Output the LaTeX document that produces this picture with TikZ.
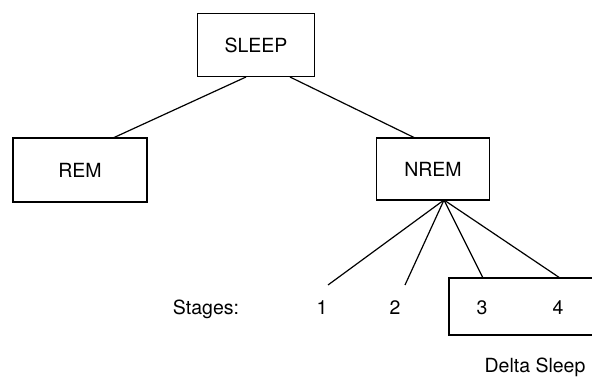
\documentclass[tikz,border=0pt]{standalone}
\usepackage{fontspec}
\setmainfont{TeX Gyre Heros}
\begin{document}
\begin{tikzpicture}[x=1pt,y=-1pt,
  box/.style={draw, line width=1.7pt, inner sep=0pt},
  lbl/.style={font=\fontsize{19.5}{22}\selectfont, inner sep=0pt},
  conn/.style={line width=1.2pt}]
\useasboundingbox (0,0) rectangle (592,377);
\node[box, lbl, minimum width=117pt, minimum height=63pt] (sleep) at (256,45) {SLEEP};
\node[box, lbl, minimum width=134pt, minimum height=64pt] (rem) at (80,170) {REM};
\node[box, lbl, minimum width=113pt, minimum height=62pt] (nrem) at (433,169) {NREM};
\node[box, minimum width=152pt, minimum height=57pt] (delta) at (525,306.5) {};
\coordinate (hub) at (444,200);
\coordinate (a1) at (246,77);
\coordinate (a2) at (290,77);
\coordinate (e1) at (113,138);
\coordinate (e2) at (415,138);
\coordinate (s1) at (328,285);
\coordinate (s2) at (405,285);
\coordinate (s3) at (483,278);
\coordinate (s4) at (560,278);
\draw[conn] (a1) -- (e1);
\draw[conn] (a2) -- (e2);
\draw[conn] (hub) -- (s1);
\draw[conn] (hub) -- (s2);
\draw[conn] (hub) -- (s3);
\draw[conn] (hub) -- (s4);
\node[lbl, anchor=base] (stages) at (206,314) {Stages:};
\node[lbl, anchor=base] (n1) at (322,314) {1};
\node[lbl, anchor=base] (n2) at (395,314) {2};
\node[lbl, anchor=base] (n3) at (482,314) {3};
\node[lbl, anchor=base] (n4) at (558,314) {4};
\node[lbl, anchor=base] (dl) at (535,372) {Delta Sleep};
\end{tikzpicture}
\end{document}
